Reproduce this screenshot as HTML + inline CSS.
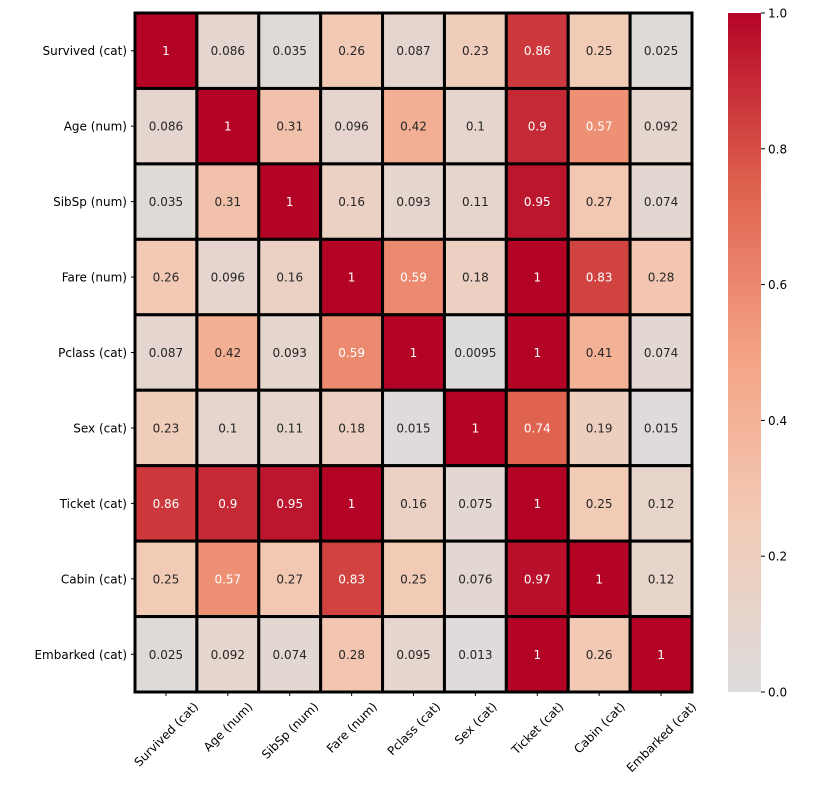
<!DOCTYPE html>
<html><head><meta charset="utf-8"><style>
body{margin:0;background:#fff;width:833px;height:789px;overflow:hidden;font-family:"Liberation Sans","DejaVu Sans",sans-serif}
text{font-family:"DejaVu Sans","Liberation Sans",sans-serif}
</style></head><body>
<svg id="chart" width="833" height="789" xmlns="http://www.w3.org/2000/svg">
<defs><linearGradient id="cbg" x1="0" y1="1" x2="0" y2="0">
<stop offset="0" stop-color="#dddcdc"/><stop offset="0.25" stop-color="#f2cbb7"/><stop offset="0.5" stop-color="#f4a283"/><stop offset="0.75" stop-color="#de604d"/><stop offset="1" stop-color="#b40426"/>
</linearGradient></defs>
</svg>
<script>
const labels=["Survived (cat)","Age (num)","SibSp (num)","Fare (num)","Pclass (cat)","Sex (cat)","Ticket (cat)","Cabin (cat)","Embarked (cat)"];
const values=[
[1,0.086,0.035,0.26,0.087,0.23,0.86,0.25,0.025],
[0.086,1,0.31,0.096,0.42,0.1,0.9,0.57,0.092],
[0.035,0.31,1,0.16,0.093,0.11,0.95,0.27,0.074],
[0.26,0.096,0.16,1,0.59,0.18,1,0.83,0.28],
[0.087,0.42,0.093,0.59,1,0.0095,1,0.41,0.074],
[0.23,0.1,0.11,0.18,0.015,1,0.74,0.19,0.015],
[0.86,0.9,0.95,1,0.16,0.075,1,0.25,0.12],
[0.25,0.57,0.27,0.83,0.25,0.076,0.97,1,0.12],
[0.025,0.092,0.074,0.28,0.095,0.013,1,0.26,1]];
const cbTicks=[0,0.2,0.4,0.6,0.8,1.0];
const NS="http://www.w3.org/2000/svg",svg=document.getElementById('chart');
const L=135,T=13,R=692,B=692,n=labels.length,cw=(R-L)/n,ch=(B-T)/n;
const stops=[[0,[221,220,220]],[0.25,[242,203,183]],[0.5,[244,162,131]],[0.75,[222,96,77]],[1,[180,4,38]]];
function color(v){v=Math.max(0,Math.min(1,v));for(let i=1;i<stops.length;i++){if(v<=stops[i][0]){const a=stops[i-1],b=stops[i],t=(v-a[0])/(b[0]-a[0]);return 'rgb('+a[1].map((c,k)=>Math.round(c+(b[1][k]-c)*t)).join(',')+')';}}}
function mk(tag,at,txt){const e=document.createElementNS(NS,tag);for(const k in at)e.setAttribute(k,at[k]);if(txt!==undefined)e.textContent=txt;svg.appendChild(e);return e;}
const xs=i=>L+i*cw, ys=i=>T+i*ch;
values.forEach((row,r)=>row.forEach((v,c)=>{
 const e=mk('rect',{x:xs(c),y:ys(r),width:cw,height:ch,fill:color(v),stroke:'#000','stroke-width':3});
 
 
 const t=mk('text',{x:xs(c)+cw/2,y:ys(r)+ch/2+4.5,'text-anchor':'middle','font-size':12,fill:v>0.55?'#fff':'#262626'},String(v));
 
 
}));
labels.forEach((lb,i)=>{
 mk('line',{x1:L-4,x2:L,y1:ys(i)+ch/2,y2:ys(i)+ch/2,stroke:'#000'});
 const y=mk('text',{x:L-8,y:ys(i)+ch/2+4.5,'text-anchor':'end','font-size':12,fill:'#000'},lb);
 
 
 const cx=xs(i)+cw/2;
 mk('line',{x1:cx,x2:cx,y1:B,y2:B+4,stroke:'#000'});
 const x=mk('text',{x:cx,y:0,'text-anchor':'middle','font-size':12,fill:'#000'},lb);
 
 
 const len=x.getComputedTextLength();
 const half=(len+12)*0.7071/2;
 const cy=B+8+half;
 x.setAttribute('y',cy+4.5);
 x.setAttribute('transform','rotate(-45 '+cx+' '+cy+')');
});
const cbx=728,cbw=33;
const cb=mk('rect',{x:cbx,y:T,width:cbw,height:B-T,fill:'url(#cbg)'});


cbTicks.forEach(v=>{
 const y=B-v*(B-T);
 mk('line',{x1:cbx+cbw,x2:cbx+cbw+4,y1:y,y2:y,stroke:'#000'});
 const t=mk('text',{x:cbx+cbw+7,y:y+4.5,'font-size':12,fill:'#000'},v.toFixed(1));
 
 
});
</script>
</body></html>
